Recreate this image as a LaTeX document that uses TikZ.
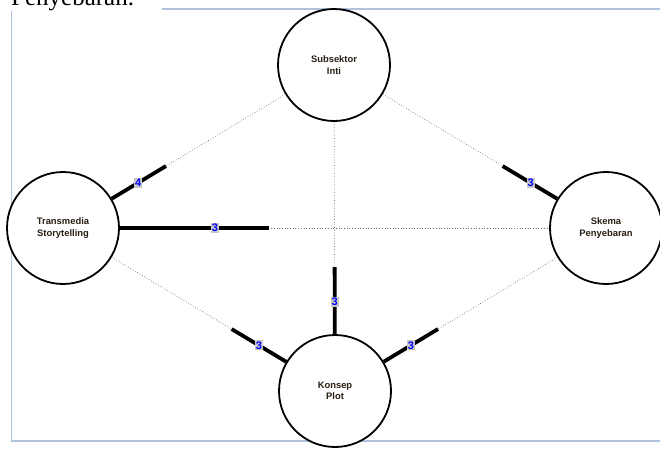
\documentclass[tikz,border=0pt]{standalone}
\usepackage{fontspec}
\setmainfont{Liberation Serif}
\newfontfamily\arialb{Liberation Sans}
\usetikzlibrary{calc}
\definecolor{framec}{RGB}{176,194,222}
\definecolor{valbg}{RGB}{200,200,200}
\definecolor{factortext}{RGB}{40,30,20}
\begin{document}
\begin{tikzpicture}[x=1pt,y=-1pt,
  factor/.style={circle, draw=black, line width=1.8pt, fill=white, minimum size=112pt, inner sep=0pt,
    font=\arialb\bfseries\fontsize{9.4}{11.5}\selectfont, text=factortext, align=center},
  weak/.style={draw=black!55, line width=0.7pt, dotted},
  strong/.style={draw=black, line width=3.8pt},
  val/.style={fill=valbg, text=blue, font=\arialb\bfseries\fontsize{11}{11}\selectfont, inner xsep=0.8pt, inner ysep=1.2pt},
  frameline/.style={draw=framec, line width=1.3pt}
]
\useasboundingbox (0,0) rectangle (660,448);
\clip (0,0) rectangle (660,448);
\fill[white] (0,0) rectangle (660,448);

% window frame and cut caption
\node[anchor=base west, inner sep=0pt, font=\fontsize{25}{25}\selectfont] (cap) at (11,5) {Penyebaran.};
\coordinate (f1) at (162,9);
\coordinate (f2) at (660,9);
\coordinate (f3) at (11.5,11);
\coordinate (f4) at (11.5,441);
\coordinate (f5) at (660,441);
\draw[frameline] (f1) -- (f2);
\draw[frameline] (f3) -- (f4) -- (f5);

% factors
\node[factor] (S) at (334,65) {Subsektor\\Inti};
\node[factor] (T) at (63,228) {Transmedia\\Storytelling};
\node[factor] (K) at (606,228) {Skema\\Penyebaran};
\node[factor] (P) at (335,391) {Konsep\\Plot};

% weak (dotted) links
\draw[weak] (S) -- (T);
\draw[weak] (S) -- (K);
\draw[weak] (S) -- (P);
\draw[weak] (T) -- (K);
\draw[weak] (T) -- (P);
\draw[weak] (K) -- (P);

% strong segments
\coordinate (eTS) at ($(T)!0.38!(S)$);
\coordinate (eKS) at ($(K)!0.38!(S)$);
\coordinate (ePS) at ($(P)!0.38!(S)$);
\coordinate (eTK) at ($(T)!0.38!(K)$);
\coordinate (ePT) at ($(P)!0.38!(T)$);
\coordinate (ePK) at ($(P)!0.38!(K)$);
\draw[strong] (T) -- (eTS);
\draw[strong] (K) -- (eKS);
\draw[strong] (P) -- (ePS);
\draw[strong] (T) -- (eTK);
\draw[strong] (P) -- (ePT);
\draw[strong] (P) -- (ePK);

% values
\node[val] (vTS) at ($(T)!0.277!(S)$) {4};
\node[val] (vKS) at ($(K)!0.277!(S)$) {3};
\node[val] (vPS) at ($(P)!0.273!(S)$) {3};
\node[val] (vTK) at ($(T)!0.28!(K)$) {3};
\node[val] (vPT) at ($(P)!0.28!(T)$) {3};
\node[val] (vPK) at ($(P)!0.28!(K)$) {3};
\end{tikzpicture}
\end{document}
